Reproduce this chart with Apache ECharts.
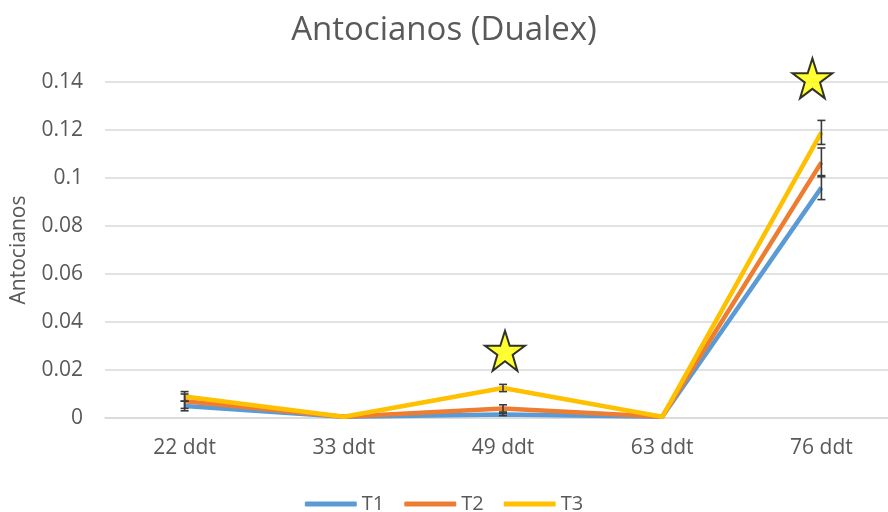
<!DOCTYPE html>
<html>
<head>
<meta charset="utf-8">
<script src="https://cdn.jsdelivr.net/npm/echarts@6/dist/echarts.min.js"></script>
<style>
  html, body { margin: 0; padding: 0; background: #fff; }
  #main { width: 888px; height: 512px; }
</style>
</head>
<body>
<div id="main"></div>
<script>
var categories = ['22 ddt', '33 ddt', '49 ddt', '63 ddt', '76 ddt'];
var t1 = [0.005, 0.0005, 0.0015, 0.0005, 0.096];
var t2 = [0.007, 0.0005, 0.004, 0.0005, 0.1065];
var t3 = [0.009, 0.0005, 0.0125, 0.0005, 0.119];
var t1Err = [0.002, 0, 0.0005, 0, 0.005];
var t2Err = [0.003, 0, 0.0015, 0, 0.006];
var t3Err = [0.002, 0, 0.0015, 0, 0.005];
var stars = [['49 ddt', 0.028], ['76 ddt', 0.1415]];

var font = '"Open Sans", Lato, sans-serif';
var starPath = 'path://M50,0 L61.8,35.4 L100,35.4 L69.1,57.3 L80.9,95.1 L50,72.4 L19.1,95.1 L30.9,57.3 L0,35.4 L38.2,35.4 Z';

function errData(vals, errs) {
    return vals.map(function (v, i) { return [i, v - errs[i], v + errs[i]]; });
}

function errSeries(vals, errs) {
    return {
        type: 'custom',
        z: 5,
        silent: true,
        clip: false,
        data: errData(vals, errs),
        renderItem: function (params, api) {
            if (api.value(2) - api.value(1) <= 0) return null;
            var lo = api.coord([api.value(0), api.value(1)]);
            var hi = api.coord([api.value(0), api.value(2)]);
            var w = 4;
            var style = { stroke: '#3a3a3a', lineWidth: 1.6 };
            return {
                type: 'group',
                children: [
                    { type: 'line', shape: { x1: hi[0], y1: hi[1], x2: lo[0], y2: lo[1] }, style: style },
                    { type: 'line', shape: { x1: hi[0] - w, y1: hi[1], x2: hi[0] + w, y2: hi[1] }, style: style },
                    { type: 'line', shape: { x1: lo[0] - w, y1: lo[1], x2: lo[0] + w, y2: lo[1] }, style: style }
                ]
            };
        }
    };
}

function lineSeries(name, vals, color) {
    return {
        name: name,
        type: 'line',
        data: vals,
        symbol: 'none',
        z: 3,
        lineStyle: { width: 4.5, color: color },
        itemStyle: { color: color }
    };
}

var myChart = echarts.init(document.getElementById('main'));
var option = {
    animation: false,
    textStyle: { fontFamily: font },
    title: {
        text: 'Antocianos (Dualex)',
        left: 'center',
        top: 9,
        textStyle: { fontFamily: font, fontSize: 33, fontWeight: 'normal', color: '#595959' }
    },
    legend: {
        top: 489,
        left: 'center',
        itemWidth: 52,
        itemHeight: 5,
        itemGap: 20,
        icon: 'roundRect',
        textStyle: { fontFamily: font, fontSize: 20, color: '#595959' },
        data: ['T1', 'T2', 'T3']
    },
    grid: { left: 105, width: 796, top: 82, bottom: 94, outerBoundsMode: 'none', containLabel: false },
    xAxis: {
        type: 'category',
        data: categories,
        axisLine: { lineStyle: { color: '#d9d9d9', width: 1.5 } },
        axisTick: { show: false },
        axisLabel: { color: '#595959', fontSize: 21, margin: 20, fontFamily: font }
    },
    yAxis: {
        type: 'value',
        min: 0,
        max: 0.14,
        interval: 0.02,
        name: 'Antocianos',
        nameLocation: 'middle',
        nameRotate: 90,
        nameGap: 75,
        nameTextStyle: { color: '#595959', fontSize: 21, fontFamily: font },
        axisLine: { show: false },
        axisTick: { show: false },
        axisLabel: { color: '#595959', fontSize: 21, margin: 22, fontFamily: font },
        splitLine: { lineStyle: { color: '#d9d9d9', width: 1.5 } }
    },
    series: [
        lineSeries('T1', t1, '#5B9BD5'),
        lineSeries('T2', t2, '#ED7D31'),
        lineSeries('T3', t3, '#FFC000'),
        errSeries(t1, t1Err),
        errSeries(t2, t2Err),
        errSeries(t3, t3Err),
        {
            type: 'scatter',
            data: stars.map(function (s, i) {
                return { value: s, symbolOffset: [i === stars.length - 1 ? -9 : 2, 0] };
            }),
            symbol: starPath,
            symbolSize: 40,
            z: 6,
            silent: true,
            clip: false,
            itemStyle: { color: '#FFFF00', borderColor: '#000', borderWidth: 2 }
        }
    ]
};
myChart.setOption(option);
</script>
</body>
</html>
